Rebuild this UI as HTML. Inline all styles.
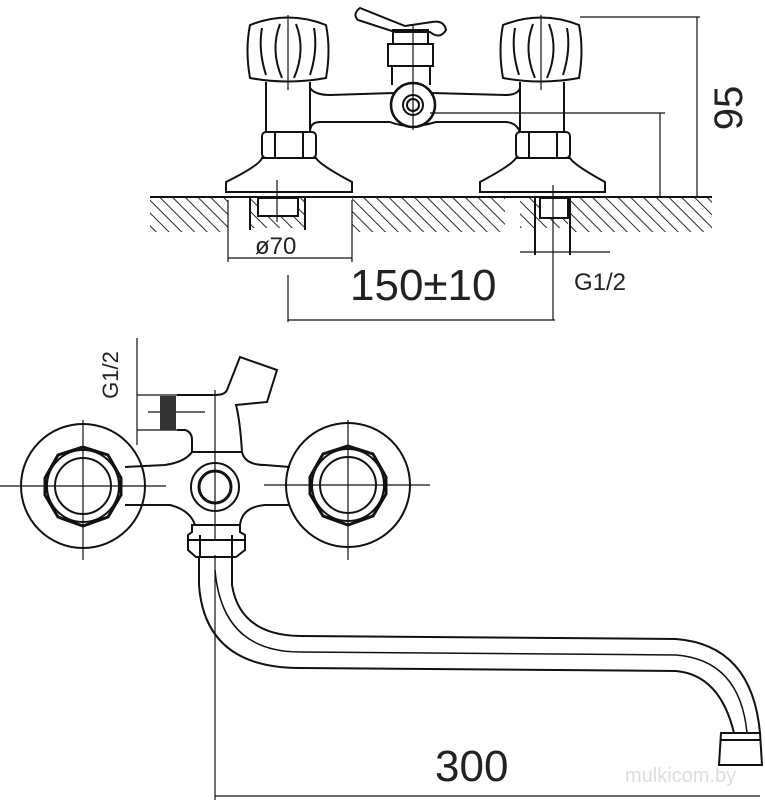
<!DOCTYPE html>
<html><head><meta charset="utf-8"><style>
html,body{margin:0;padding:0;background:#fff}
svg{display:block}
text{font-family:"Liberation Sans",Arial,sans-serif;fill:#222}
</style></head><body>
<svg width="765" height="800" viewBox="0 0 765 800" xmlns="http://www.w3.org/2000/svg">
<defs>
<pattern id="h" width="9" height="9" patternUnits="userSpaceOnUse" patternTransform="rotate(-45)">
<line x1="0" y1="0" x2="0" y2="9" stroke="#111" stroke-width="1.8"/>
</pattern>
</defs>
<g fill="none" stroke="#111" stroke-width="2">
<!-- ===== TOP VIEW ===== -->
<rect x="150" y="198" width="562" height="34" fill="url(#h)" stroke="none"/>
<line x1="150" y1="197" x2="712" y2="197"/>
<rect x="228" y="198" width="124" height="34" fill="#fff" stroke="none"/>
<rect x="505" y="198" width="65" height="34" fill="#fff" stroke="none"/>
<rect x="250" y="198" width="55" height="30" fill="url(#h)" stroke="none"/>
<rect x="258" y="198" width="40" height="18" fill="#fff"/>
<rect x="520" y="198" width="48" height="30" fill="url(#h)" stroke="none"/>
<rect x="540" y="198" width="28" height="20" fill="#fff"/>
<line x1="250" y1="198" x2="250" y2="230"/><line x1="305" y1="198" x2="305" y2="230"/>
<line x1="535" y1="198" x2="535" y2="255"/><line x1="570" y1="198" x2="570" y2="255"/>
<path d="M226,192 L226,182 Q260,165 262,158 L316,158 Q320,165 352,182 L352,192 Z" fill="#fff"/>
<path d="M480,192 L480,182 Q512,165 516,158 L570,158 Q574,165 605,182 L605,192 Z" fill="#fff"/>
<rect x="262" y="132" width="54" height="26" rx="4"/>
<line x1="275" y1="132" x2="275" y2="158"/><line x1="303" y1="132" x2="303" y2="158"/>
<rect x="516" y="132" width="54" height="26" rx="4"/>
<line x1="529" y1="132" x2="529" y2="158"/><line x1="557" y1="132" x2="557" y2="158"/>
<line x1="266" y1="82" x2="266" y2="132"/><line x1="310" y1="82" x2="310" y2="132"/>
<line x1="520" y1="82" x2="520" y2="132"/><line x1="564" y1="82" x2="564" y2="132"/>
<path d="M310,88 Q315,95 330,95 L395,93"/>
<path d="M432,93 L505,95 Q518,95 520,88"/>
<path d="M310,132 Q310,122 320,122 L390,122 Q410,130 436,122 L505,122 Q516,122 520,132"/>
<path d="M250,78 Q245,50 250,25 Q288,10 326,25 Q331,50 326,78 Q288,85 250,78 Z"/>
<path d="M262,28 Q258,50 266,75 M280,24 Q270,50 282,78 M296,24 Q306,50 294,78 M314,28 Q318,50 310,75"/>
<path d="M503,78 Q498,50 503,25 Q541,10 579,25 Q584,50 579,78 Q541,85 503,78 Z"/>
<path d="M515,28 Q511,50 519,75 M533,24 Q523,50 535,78 M549,24 Q559,50 547,78 M567,28 Q571,50 563,75"/>
<path d="M360,8 Q352,14 358,20 L395,32 L430,32 Q440,40 446,30 Q444,20 432,22 L405,26 Z" fill="#fff"/>
<rect x="393" y="30" width="35" height="14"/>
<rect x="388" y="44" width="45" height="22"/>
<line x1="392" y1="66" x2="392" y2="85"/><line x1="430" y1="66" x2="430" y2="85"/>
<circle cx="413" cy="105" r="22" fill="#fff" stroke-width="2.5"/>
<circle cx="413" cy="105" r="10"/><circle cx="413" cy="105" r="6"/>
<g stroke-width="1.2">
<line x1="288" y1="15" x2="288" y2="90"/><line x1="541" y1="15" x2="541" y2="90"/>
<line x1="413" y1="25" x2="413" y2="130"/>
<line x1="277" y1="180" x2="277" y2="222"/><line x1="553" y1="185" x2="553" y2="320"/>
<line x1="580" y1="17" x2="700" y2="17"/><line x1="697" y1="17" x2="697" y2="197"/>
<line x1="430" y1="113" x2="665" y2="113"/><line x1="660" y1="113" x2="660" y2="197"/>
<line x1="228" y1="200" x2="228" y2="262"/><line x1="352" y1="200" x2="352" y2="262"/>
<line x1="228" y1="258" x2="352" y2="258"/>
<line x1="288" y1="275" x2="288" y2="322"/><line x1="288" y1="320" x2="555" y2="320"/>
<line x1="520" y1="252" x2="610" y2="252"/>
</g>
<text x="742" y="108" font-size="40" transform="rotate(-90 742 108)" text-anchor="middle" stroke="none">95</text>
<text x="255" y="254" font-size="24" stroke="none">ø70</text>
<text x="350" y="300" font-size="44" stroke="none">150±10</text>
<text x="574" y="290" font-size="24" stroke="none">G1/2</text>

<!-- ===== FRONT VIEW ===== -->
<g stroke-width="1.2">
<line x1="137" y1="338" x2="137" y2="445"/>
<line x1="137" y1="395" x2="215" y2="395"/>
<line x1="137" y1="430" x2="180" y2="430"/>
<line x1="148" y1="412" x2="205" y2="412"/>
</g>
<rect x="160" y="396" width="16" height="34" fill="#333" stroke="none"/>
<text x="118" y="375" font-size="22" transform="rotate(-90 118 375)" text-anchor="middle" stroke="none">G1/2</text>
<path d="M177,430 L185,430 Q192,432 192,440 L192,452 L242,452 Q240,420 236,405 L267,402 L277,370 L240,357 L227,390 Q225,395 215,395 L177,395"/>
<path d="M125,467 L165,465 Q185,462 192,452"/>
<path d="M242,452 Q245,465 265,465 L290,467"/>
<path d="M125,505 L170,505 Q190,510 195,525 L240,525 Q242,507 265,505 L290,505"/>
<circle cx="83" cy="486" r="62"/>
<path d="M83,447 L108,455 L121,478 L121,495 L108,517 L83,526 L58,517 L45,495 L45,478 L58,455 Z" fill="#fff" stroke-width="3"/>
<circle cx="83" cy="486" r="36"/><circle cx="83" cy="486" r="28"/>
<circle cx="348" cy="485" r="62"/>
<path d="M348,446 L373,454 L386,477 L386,494 L373,516 L348,525 L323,516 L310,494 L310,477 L323,454 Z" fill="#fff" stroke-width="3"/>
<circle cx="348" cy="485" r="36"/><circle cx="348" cy="485" r="28"/>
<circle cx="215" cy="487" r="24"/><circle cx="215" cy="487" r="16" stroke-width="3"/>
<g stroke-width="1.2">
<line x1="0" y1="486" x2="166" y2="486"/><line x1="83" y1="420" x2="83" y2="560"/>
<line x1="264" y1="485" x2="430" y2="485"/><line x1="348" y1="420" x2="348" y2="560"/>
<line x1="215" y1="390" x2="215" y2="540"/>
</g>
<path d="M192,525 L240,525 L240,532 L245,535 L245,550 L236,557 L196,557 L188,550 L188,535 L192,532 Z"/>
<line x1="188" y1="540" x2="245" y2="540"/>
<line x1="200" y1="535" x2="200" y2="557"/><line x1="232" y1="535" x2="232" y2="557"/>
<path d="M199,557 L199,585 Q205,668 300,668 L676,671 Q720,675 734,733"/>
<path d="M232,557 L232,585 Q240,635 300,636 L676,639 Q752,645 760,733"/>
<path d="M215,570 Q222,652 300,652 L676,655 Q740,660 747,733" stroke-width="1.5"/>
<path d="M721,733 L760,733 L762,765 L719,765 Z" fill="#fff"/>
<line x1="720" y1="740" x2="761" y2="740"/>
<g stroke-width="1.2">
<line x1="215" y1="555" x2="215" y2="800"/>
<line x1="215" y1="796" x2="760" y2="796"/>
</g>
<text x="435" y="781" font-size="44" stroke="none">300</text>
<text x="625" y="782" font-size="20" stroke="none" style="fill:#ddd">mulkicom.by</text>
</g>
</svg>
</body></html>
